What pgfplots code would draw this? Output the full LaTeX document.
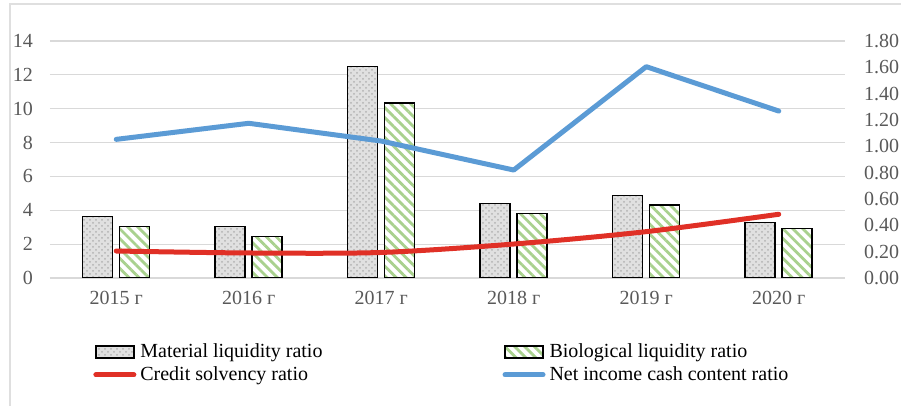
\documentclass[border=0pt]{standalone}
\usepackage{fontspec}
\setmainfont{Liberation Serif}
\usepackage{pgfplots}
\usepackage{pgfplotstable}
\pgfplotsset{compat=1.18}
\usetikzlibrary{patterns,patterns.meta}

\definecolor{gridgray}{HTML}{D9D9D9}
\definecolor{ticktext}{HTML}{595959}
\definecolor{bioGreen}{HTML}{A9D18E}
\definecolor{netBlue}{HTML}{5B9BD5}
\definecolor{creditRed}{HTML}{E03026}

% bars on left axis, lines on right axis
\pgfplotstableread{
x mat  bio   credit net
0 3.62 3.03  0.205  1.053
1 3.03 2.44  0.190  1.175
2 12.48 10.35 0.194 1.040
3 4.41 3.82  0.258  0.820
4 4.88 4.31  0.352  1.605
5 3.27 2.93  0.484  1.268
}\ratios

\pgfplotsset{
    matbar/.style={draw=black, line width=0.75pt, fill=black!12,
        postaction={pattern=crosshatch dots, pattern color=black!30}},
    biobar/.style={draw=black, line width=0.75pt, fill=white,
        postaction={pattern={Lines[angle=-45,distance=3.5pt,line width=1.4pt]}, pattern color=bioGreen}},
    barlegend/.style={legend image code/.code={\draw[##1] (0pt,-3pt) rectangle (19pt,3pt);}},
    linelegend/.style={legend image code/.code={\draw[##1] (0pt,0pt) -- (19pt,0pt);}},
    common/.style={
        scale only axis, width=397.5pt, height=118.5pt,
        at={(0,0)}, anchor=south west,
        xmin=-0.5, xmax=5.5,
        major tick length=0pt,
        tick label style={font=\fontsize{10}{12}\selectfont, text=ticktext},
        /pgf/number format/assume math mode=true,
    },
}

\begin{document}
\begin{tikzpicture}
\useasboundingbox (-25pt,-64pt) rectangle (425.5pt,139pt);
\begin{axis}[
    common,
    ymin=0, ymax=14, ytick={0,2,...,14},
    xtick={0,...,5},
    xticklabels={2015 г,2016 г,2017 г,2018 г,2019 г,2020 г},
    ybar=3.5pt, bar width=15pt,
    ymajorgrids, grid style={gridgray, line width=0.6pt},
    axis line style={draw=none},
    yticklabel style={xshift=-5pt},
    xticklabel style={yshift=-3pt},
]
    \addplot[matbar] table[x=x, y=mat]{\ratios};
    \addplot[biobar] table[x=x, y=bio]{\ratios};
\end{axis}
\begin{axis}[
    common,
    ymin=0, ymax=1.8,
    ytick={0,0.2,0.4,0.6,0.8,1.0,1.2,1.4,1.6,1.8},
    axis y line*=right, axis x line=none,
    y axis line style={draw=none},
    yticklabel style={xshift=6pt, /pgf/number format/fixed,
        /pgf/number format/fixed zerofill, /pgf/number format/precision=2},
    legend columns=2, legend cell align=left,
    legend style={at={(0.0465,-0.241)}, anchor=north west, draw=none,
        font=\fontsize{10}{12}\selectfont, row sep=-1pt,
        /tikz/every even column/.append style={column sep=88pt}},
]
    \addlegendimage{barlegend, matbar}
    \addlegendentry{Material liquidity ratio}
    \addlegendimage{barlegend, biobar}
    \addlegendentry{Biological liquidity ratio}
    \addplot[creditRed, line width=2.5pt, line cap=round, smooth, mark=none, linelegend]
        table[x=x, y=credit]{\ratios};
    \addlegendentry{Credit solvency ratio}
    \addplot[netBlue, line width=2.5pt, line cap=round, line join=round, mark=none, linelegend]
        table[x=x, y=net]{\ratios};
    \addlegendentry{Net income cash content ratio}
\end{axis}
\draw[gray!25, line width=0.6pt] (-20pt,-64pt) -- (-20pt,137pt) -- (425.5pt,137pt);
\end{tikzpicture}
\end{document}
